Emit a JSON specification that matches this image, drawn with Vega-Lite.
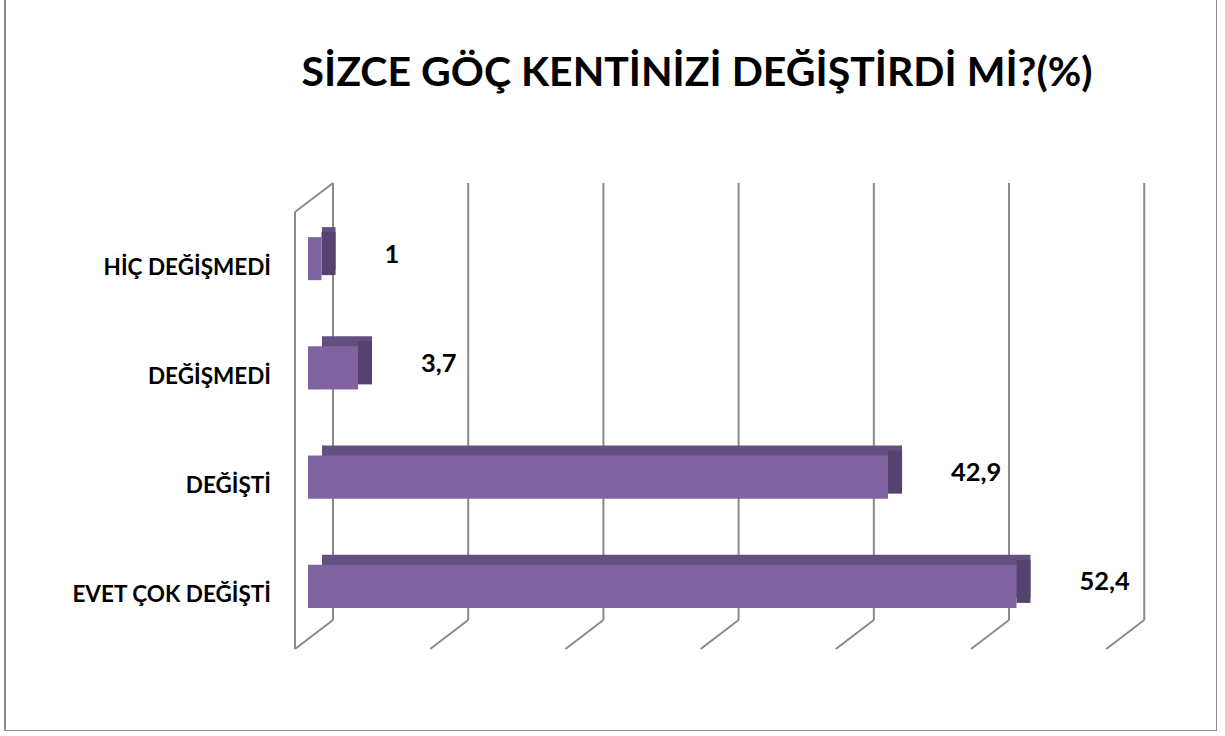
{
  "$schema": "https://vega.github.io/schema/vega-lite/v6.json",
  "autosize": {"type": "none"},
  "width": 1212,
  "height": 733,
  "padding": {"left": 5, "top": -2, "right": 0, "bottom": 0},
  "background": "white",
  "config": {"view": {"stroke": "#8C8C8C", "strokeWidth": 2}, "font": "Lato"},
  "title": {
    "text": "SİZCE GÖÇ KENTİNİZİ DEĞİŞTİRDİ Mİ?(%)",
    "font": "Lato",
    "fontSize": 41,
    "fontWeight": "bold",
    "color": "#000000",
    "anchor": "middle",
    "frame": "group",
    "baseline": "alphabetic",
    "offset": -129,
    "dx": 86
  },
  "datasets": {
    "bars": [
      {"cevap": "HİÇ DEĞİŞMEDİ", "yuzde": 1, "etiket": "1"},
      {"cevap": "DEĞİŞMEDİ", "yuzde": 3.7, "etiket": "3,7"},
      {"cevap": "DEĞİŞTİ", "yuzde": 42.9, "etiket": "42,9"},
      {"cevap": "EVET ÇOK DEĞİŞTİ", "yuzde": 52.4, "etiket": "52,4"}
    ],
    "grid": [
      {"deger": 0}, {"deger": 10}, {"deger": 20}, {"deger": 30},
      {"deger": 40}, {"deger": 50}, {"deger": 60}
    ]
  },
  "resolve": {"scale": {"x": "shared", "y": "shared"}},
  "encoding": {},
  "layer": [
    {
      "data": {"name": "grid"},
      "mark": {"type": "rule", "color": "#8A8A8A", "strokeWidth": 2, "xOffset": 25, "yOffset": -21, "y2Offset": -21},
      "encoding": {
        "x": {"field": "deger", "type": "quantitative", "scale": {"domain": [-22.41, 67.23], "nice": false, "zero": false}, "axis": null},
        "y": {"datum": "HİÇ DEĞİŞMEDİ", "type": "nominal", "bandPosition": 0, "scale": {"domain": ["HİÇ DEĞİŞMEDİ", "DEĞİŞMEDİ", "DEĞİŞTİ", "EVET ÇOK DEĞİŞTİ"], "range": [206, 643], "paddingInner": 0, "paddingOuter": 0}, "axis": null},
        "y2": {"datum": "EVET ÇOK DEĞİŞTİ", "bandPosition": 1}
      }
    },
    {
      "data": {"name": "grid"},
      "mark": {"type": "rule", "color": "#8A8A8A", "strokeWidth": 2, "xOffset": 25, "x2Offset": -13, "yOffset": -21, "y2Offset": 8},
      "encoding": {
        "x": {"field": "deger", "type": "quantitative"},
        "x2": {"field": "deger"},
        "y": {"datum": "EVET ÇOK DEĞİŞTİ", "type": "nominal", "bandPosition": 1},
        "y2": {"datum": "EVET ÇOK DEĞİŞTİ", "bandPosition": 1}
      }
    },
    {
      "data": {"values": [{}]},
      "mark": {"type": "rule", "color": "#8A8A8A", "strokeWidth": 2, "xOffset": -13, "yOffset": 8, "y2Offset": 8},
      "encoding": {
        "x": {"datum": 0, "type": "quantitative"},
        "y": {"datum": "HİÇ DEĞİŞMEDİ", "type": "nominal", "bandPosition": 0},
        "y2": {"datum": "EVET ÇOK DEĞİŞTİ", "bandPosition": 1}
      }
    },
    {
      "data": {"values": [{}]},
      "mark": {"type": "rule", "color": "#8A8A8A", "strokeWidth": 2, "xOffset": 25, "x2Offset": -13, "yOffset": -21, "y2Offset": 8},
      "encoding": {
        "x": {"datum": 0, "type": "quantitative"},
        "x2": {"datum": 0},
        "y": {"datum": "HİÇ DEĞİŞMEDİ", "type": "nominal", "bandPosition": 0},
        "y2": {"datum": "HİÇ DEĞİŞMEDİ", "bandPosition": 0}
      }
    },
    {
      "data": {"name": "bars"},
      "mark": {"type": "bar", "color": "#634F80", "height": {"band": 0.394}, "xOffset": 14, "x2Offset": 14, "yOffset": -10, "y2Offset": -10},
      "encoding": {
        "x": {"field": "yuzde", "type": "quantitative"},
        "x2": {"datum": 0},
        "y": {"field": "cevap", "type": "nominal"}
      }
    },
    {
      "data": {"name": "bars"},
      "mark": {"type": "bar", "color": "#55426E", "height": {"band": 0.394}, "x2Offset": 14, "yOffset": -5, "y2Offset": -5},
      "encoding": {
        "x": {"field": "yuzde", "type": "quantitative"},
        "x2": {"field": "yuzde"},
        "y": {"field": "cevap", "type": "nominal"}
      }
    },
    {
      "data": {"name": "bars"},
      "mark": {"type": "bar", "color": "#8064A2", "height": {"band": 0.394}},
      "encoding": {
        "x": {"field": "yuzde", "type": "quantitative"},
        "x2": {"datum": 0},
        "y": {"field": "cevap", "type": "nominal"}
      }
    },
    {
      "data": {"name": "bars"},
      "mark": {"type": "text", "font": "Lato", "fontWeight": "bold", "fontSize": 25.5, "color": "#000000", "align": "left", "baseline": "middle", "dx": 63, "dy": -4},
      "encoding": {
        "x": {"field": "yuzde", "type": "quantitative"},
        "y": {"field": "cevap", "type": "nominal"},
        "text": {"field": "etiket"}
      }
    },
    {
      "data": {"name": "bars"},
      "mark": {"type": "text", "font": "Lato", "fontWeight": "bold", "fontSize": 22.5, "color": "#000000", "align": "right", "baseline": "middle", "dx": -37, "dy": 9},
      "encoding": {
        "x": {"datum": 0, "type": "quantitative"},
        "y": {"field": "cevap", "type": "nominal"},
        "text": {"field": "cevap"}
      }
    }
  ]
}
